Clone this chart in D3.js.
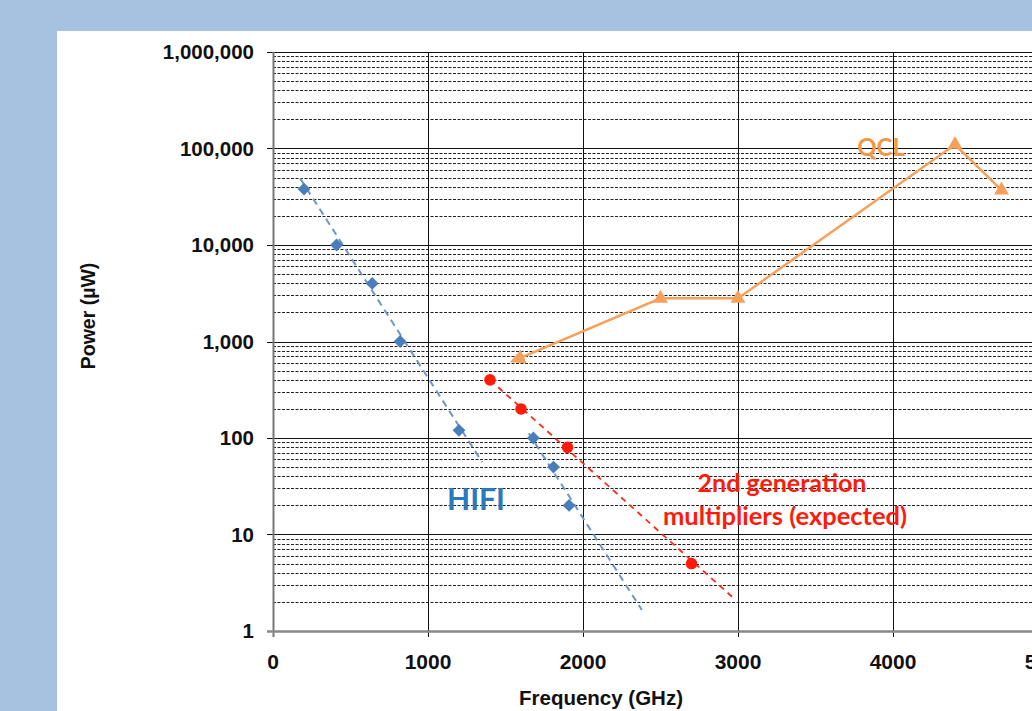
<!DOCTYPE html>
<html>
    <head>
        <meta charset="utf-8">
        <title>Power vs frequency</title>
        <script src="https://d3js.org/d3.v7.min.js"></script>
        <style>
            body { margin: 0; background: #a7c2e0; }
            text { font-family: "Liberation Sans", Arial, sans-serif; font-weight: bold; }
            .lbl { font-family: Lato, "Open Sans", sans-serif; font-weight: bold; }
        </style>
    </head>
    <body>
        <div id="chart">
            <script>
                // data (frequency in GHz, power in uW)
                var hifiFreq  = [200, 410, 640, 820, 1200, 1680, 1810, 1910]
                var hifiPower = [38000, 10000, 4000, 1000, 120, 100, 50, 20]
                // HIFI dashed trend segments
                var hifiTrend1 = [[175, 49000], [1350, 56]]
                var hifiTrend2 = [[1650, 112], [2380, 1.65]]

                var multFreq  = [1400, 1600, 1900, 2700]
                var multPower = [400, 200, 80, 5]
                var multTrend = [[1400, 400], [2970, 2.2]]

                var qclFreq  = [1600, 2500, 3000, 4400, 4700]
                var qclPower = [680, 2800, 2800, 110000, 37000]

                var xTicks = [0, 1000, 2000, 3000, 4000, 5000]
                var yTicks = [1, 10, 100, 1000, 10000, 100000, 1000000]

                var W = 1032, H = 711
                var svg = d3.select("#chart")
                    .append("svg")
                    .attr("width", W)
                    .attr("height", H)
                    .style("display", "block")

                // white panel
                svg.append("rect")
                    .attr("x", 57).attr("y", 31)
                    .attr("width", W - 57).attr("height", H - 31)
                    .attr("fill", "#fff")

                var x = d3.scaleLinear().domain([0, 5000]).range([273, 1048])
                var y = d3.scaleLog().domain([1, 1000000]).range([631, 52])

                // minor dashed grid
                var minor = []
                yTicks.slice(0, -1).forEach(function (t) {
                    for (var k = 2; k <= 9; k++) minor.push(t * k)
                })
                svg.append("g").selectAll("line").data(minor).join("line")
                    .attr("x1", x(0)).attr("x2", W)
                    .attr("y1", function (d) { return Math.round(y(d)) + 0.5 })
                    .attr("y2", function (d) { return Math.round(y(d)) + 0.5 })
                    .attr("stroke", "#222").attr("stroke-width", 1)
                    .attr("stroke-dasharray", "3,1.5")

                // major grid
                svg.append("g").selectAll("line").data(yTicks.slice(1)).join("line")
                    .attr("x1", x(0) - 6).attr("x2", W)
                    .attr("y1", function (d) { return Math.round(y(d)) + 0.5 })
                    .attr("y2", function (d) { return Math.round(y(d)) + 0.5 })
                    .attr("stroke", "#111").attr("stroke-width", 1)
                svg.append("g").selectAll("line").data(xTicks.slice(1)).join("line")
                    .attr("x1", function (d) { return Math.round(x(d)) + 0.5 })
                    .attr("x2", function (d) { return Math.round(x(d)) + 0.5 })
                    .attr("y1", y(1000000)).attr("y2", y(1) + 6)
                    .attr("stroke", "#111").attr("stroke-width", 1)

                // axes lines
                svg.append("line")
                    .attr("x1", x(0) + 0.5).attr("x2", x(0) + 0.5)
                    .attr("y1", y(1000000)).attr("y2", y(1) + 6)
                    .attr("stroke", "#777").attr("stroke-width", 2)
                svg.append("line")
                    .attr("x1", x(0) - 6).attr("x2", W)
                    .attr("y1", y(1) + 0.5).attr("y2", y(1) + 0.5)
                    .attr("stroke", "#888").attr("stroke-width", 2.5)

                // tick labels
                var fmt = d3.format(",")
                svg.append("g").selectAll("text").data(yTicks).join("text")
                    .attr("x", 254)
                    .attr("y", function (d) { return y(d) + 7 })
                    .attr("text-anchor", "end")
                    .style("font-size", "20.5px")
                    .attr("fill", "#111")
                    .text(function (d) { return fmt(d) })
                svg.append("g").selectAll("text").data(xTicks).join("text")
                    .attr("x", function (d) { return x(d) })
                    .attr("y", 669)
                    .attr("text-anchor", "middle")
                    .style("font-size", "21px")
                    .style("font-family", "'Liberation Sans Narrow', 'Liberation Sans', sans-serif")
                    .attr("fill", "#111")
                    .text(function (d) { return d })

                // axis titles
                svg.append("text")
                    .attr("x", 601).attr("y", 705)
                    .attr("text-anchor", "middle")
                    .style("font-size", "20.5px")
                    .attr("fill", "#111")
                    .text("Frequency (GHz)")
                svg.append("text")
                    .attr("transform", "translate(95,316) rotate(-90)")
                    .attr("text-anchor", "middle")
                    .style("font-size", "19.5px")
                    .attr("fill", "#111")
                    .text("Power (\u00b5W)")

                // text labels
                svg.append("text").attr("class", "lbl")
                    .attr("x", 476).attr("y", 510)
                    .attr("text-anchor", "middle")
                    .style("font-size", "30px").attr("fill", "#2a78be")
                    .text("HIFI")
                svg.append("text").attr("class", "lbl")
                    .attr("x", 881).attr("y", 156)
                    .attr("text-anchor", "middle")
                    .style("font-size", "24px").attr("fill", "#f79646")
                    .text("QCL")
                svg.append("text").attr("class", "lbl")
                    .attr("x", 782).attr("y", 492)
                    .attr("text-anchor", "middle")
                    .style("font-size", "25px").attr("fill", "#ff1a0a")
                    .text("2nd generation")
                svg.append("text").attr("class", "lbl")
                    .attr("x", 785).attr("y", 525)
                    .attr("text-anchor", "middle")
                    .style("font-size", "25.5px").attr("fill", "#ff1a0a")
                    .text("multipliers (expected)")

                var line = d3.line()
                    .x(function (d) { return x(d[0]) })
                    .y(function (d) { return y(d[1]) })

                // trend lines
                ;[hifiTrend1, hifiTrend2].forEach(function (t) {
                    svg.append("path").datum(t)
                        .attr("d", line)
                        .attr("fill", "none")
                        .attr("stroke", "#6e97c6").attr("stroke-width", 2)
                        .attr("stroke-dasharray", "7,5")
                })
                svg.append("path").datum(multTrend)
                    .attr("d", line)
                    .attr("fill", "none")
                    .attr("stroke", "#ff2a1a").attr("stroke-width", 1.8)
                    .attr("stroke-dasharray", "6,5")

                // QCL line with arrow at first point
                svg.append("defs").append("marker")
                    .attr("id", "arr")
                    .attr("viewBox", "0 0 10 10")
                    .attr("refX", 2).attr("refY", 5)
                    .attr("markerWidth", 6).attr("markerHeight", 6)
                    .attr("orient", "auto-start-reverse")
                    .append("path")
                    .attr("d", "M0,0 L10,5 L0,10 z")
                    .attr("fill", "#f7a05a")
                var qcl = qclFreq.map(function (f, i) { return [f, qclPower[i]] })
                svg.append("path").datum(qcl)
                    .attr("d", line)
                    .attr("fill", "none")
                    .attr("stroke", "#f7a05a").attr("stroke-width", 2.5)
                    .attr("marker-start", "url(#arr)")
                svg.append("g").selectAll("path").data(qcl.slice(1)).join("path")
                    .attr("d", d3.symbol().type(d3.symbolTriangle).size(95))
                    .attr("transform", function (d) { return "translate(" + x(d[0]) + "," + y(d[1]) + ")" })
                    .attr("fill", "#f7a05a")

                // HIFI diamonds
                svg.append("g").selectAll("path").data(hifiFreq).join("path")
                    .attr("d", d3.symbol().type(d3.symbolDiamond2).size(105))
                    .attr("transform", function (d, i) { return "translate(" + x(d) + "," + y(hifiPower[i]) + ")" })
                    .attr("fill", "#4a7ebb")

                // multiplier circles
                svg.append("g").selectAll("circle").data(multFreq).join("circle")
                    .attr("cx", function (d) { return x(d) })
                    .attr("cy", function (d, i) { return y(multPower[i]) })
                    .attr("r", 5.8)
                    .attr("fill", "#ff1a0a")
            </script>
        </div>
    </body>
</html>
